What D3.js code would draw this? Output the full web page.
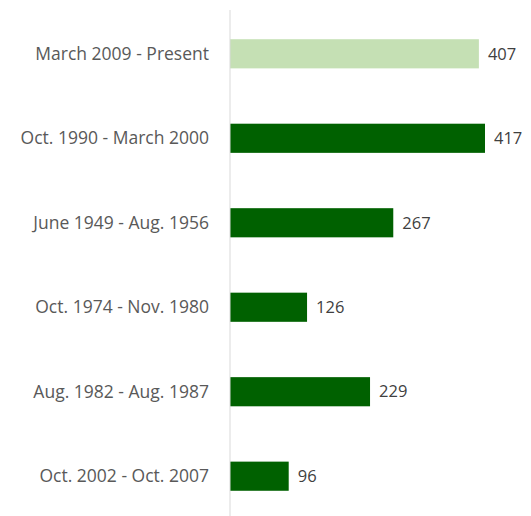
<!DOCTYPE html>
<html>
<head>
<meta charset="utf-8">
<script src="https://cdn.jsdelivr.net/npm/d3@7"></script>
<style>
  body { margin: 0; background: #fff; }
  text { font-family: "Open Sans", "Noto Sans", sans-serif; }
</style>
</head>
<body>
<div id="bar_chart"></div>
<script>
/* Horizontal bars: length of periods */

const periods = ["March 2009 - Present", "Oct. 1990 - March 2000", "June 1949 - Aug. 1956",
                 "Oct. 1974 - Nov. 1980", "Aug. 1982 - Aug. 1987", "Oct. 2002 - Oct. 2007"];
const values = [407, 417, 267, 126, 229, 96];
const highlight = ["March 2009 - Present"];

const data = periods.map((p, i) => ({ period: p, num: values[i] }));

const height = 516,
      width = 531,
      margin = ({ top: 10, right: 46, bottom: -3, left: 230 });

let svg = d3.select("#bar_chart")
    .append("svg")
    .attr("width", width)
    .attr("height", height);

let x = d3.scaleLinear()
    .domain([0, 417])
    .range([margin.left, width - margin.right]);

let y = d3.scaleBand()
    .domain(periods)
    .range([margin.top, height - margin.bottom])
    .paddingInner(0.655)
    .paddingOuter(0.34);

let bar = svg.selectAll(".bar")
    .data(data)
    .join("g")
    .attr("class", "bar");

bar.append("rect")
    .attr("fill", d => highlight.includes(d.period) ? "#c5e0b4" : "#006100")
    .attr("x", x(0))
    .attr("y", d => y(d.period) + 0.5)
    .attr("width", d => x(d.num) - x(0))
    .attr("height", y.bandwidth());

bar.append("text") // value labels
    .text(d => d.num)
    .attr("x", d => x(d.num) + 9)
    .attr("y", d => y(d.period) + y.bandwidth() / 2 + 0.5)
    .attr("dy", "0.35em")
    .style("font-size", "16.5px")
    .style("fill", "#404040");

// category labels
svg.append("g")
    .selectAll("text")
    .data(periods)
    .join("text")
    .attr("x", margin.left - 21)
    .attr("y", d => y(d) + y.bandwidth() / 2 + 0.5)
    .attr("dy", "0.35em")
    .attr("text-anchor", "end")
    .style("font-size", "17.5px")
    .style("fill", "#595959")
    .text(d => d);

// axis line
svg.append("line")
    .attr("x1", x(0)).attr("x2", x(0))
    .attr("y1", margin.top).attr("y2", height)
    .attr("stroke", "#d9d9d9")
    .attr("stroke-width", 1);
</script>
</body>
</html>
